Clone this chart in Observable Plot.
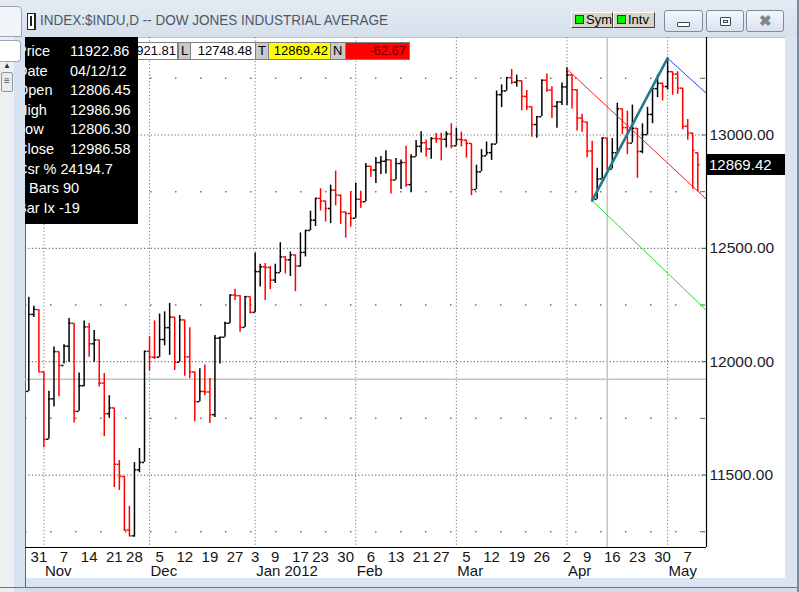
<!DOCTYPE html>
<html><head><meta charset="utf-8">
<script src="https://cdn.jsdelivr.net/npm/d3@7"></script>
<script src="https://cdn.jsdelivr.net/npm/@observablehq/plot@0.6"></script>
<style>
html,body{margin:0;padding:0}
body{width:799px;height:592px;overflow:hidden;position:relative;background:#d3dce7;font-family:"Liberation Sans",Arial,sans-serif}
.abs{position:absolute;box-sizing:border-box}
.btn{position:absolute;box-sizing:border-box;border:1px solid #7d8ca3;border-radius:3px;background:linear-gradient(#f4f7fb,#d9e2ee)}
.gbtn{position:absolute;box-sizing:border-box;background:#d6d3cc;border:1px solid;border-color:#fff #404040 #404040 #fff;font-size:13px;line-height:14px;color:#000}
.gsq{position:absolute;width:9px;height:9px;background:#00f000;border:1px solid #204020;box-sizing:border-box}
.row{position:absolute;left:-8px;height:20px;line-height:20px;font-size:14.5px;color:#fff;white-space:pre}
.val{position:absolute;left:53px;top:0}
.box{position:absolute;top:42px;height:18px;box-sizing:border-box;border:1px solid #808080;font-size:13px;line-height:16px;white-space:pre}
</style></head><body>
<!-- window chrome -->
<div class="abs" style="left:0;top:0;width:799px;height:37px;background:linear-gradient(#e4ebf3,#d6e0eb)"></div>
<div class="abs" style="left:0;top:6px;width:22px;height:31px;background:#f1f4f8;border:1px solid #9aa7b7;border-left:none;border-radius:0 5px 0 0"></div>
<div class="abs" style="left:0;top:37px;width:14px;height:555px;background:#eeeff1"></div>
<div class="abs" style="left:14px;top:37px;width:11px;height:555px;background:#d6e2ef"></div>
<div class="abs" style="left:0;top:40px;width:21px;height:22px;background:#fff;border:1px solid #9aa7b7;border-left:none;border-radius:0 4px 4px 0"></div>
<div class="abs" style="left:3px;top:61px;font-size:8px;color:#333">&#9650;</div>
<div class="abs" style="left:1px;top:72px;width:12px;height:20px;background:#e9edf2;border:1px solid #8a97a8;border-radius:2px;font-size:10px;line-height:16px;text-align:center;color:#555">&#8801;</div>
<div class="abs" style="left:25px;top:37px;width:760px;height:541px;background:#fff;border-left:1px solid #606870;border-top:1px solid #b8c2cd"></div>
<div class="abs" style="left:25px;top:578px;width:772px;height:9px;background:#dbe5f1;border-left:1px solid #606870"></div>
<div class="abs" style="left:0;top:587px;width:799px;height:1px;background:#6b7888"></div>
<div class="abs" style="left:785px;top:37px;width:12px;height:550px;background:#dbe5f1"></div>
<div class="abs" style="left:797px;top:0;width:2px;height:592px;background:#7c8a9b"></div>
<!-- title -->
<div class="abs" style="left:27px;top:13px;width:9px;height:17px;background:#fff;border:1px solid #222;border-right-width:2px"></div>
<div class="abs" style="left:30px;top:16px;width:2px;height:10px;background:#222"></div>
<div class="abs" id="title" style="left:40px;top:11px;font-size:15px;color:#4c5868;white-space:nowrap;transform:scaleX(0.9);transform-origin:0 0">INDEX:$INDU,D -- DOW JONES INDUSTRIAL AVERAGE</div>
<div class="gbtn" style="left:571px;top:12px;width:42px;height:16px"><div class="gsq" style="left:3px;top:2px"></div><span style="position:absolute;left:14px;top:0">Sym</span></div>
<div class="gbtn" style="left:613px;top:12px;width:42px;height:16px"><div class="gsq" style="left:3px;top:2px"></div><span style="position:absolute;left:14px;top:0">Intv</span></div>
<div class="btn" style="left:664px;top:10px;width:39px;height:22px"><div class="abs" style="left:12px;top:11px;width:13px;height:5px;border:1px solid #3a4658;border-radius:1px;background:#fff"></div></div>
<div class="btn" style="left:706px;top:10px;width:38px;height:22px"><div class="abs" style="left:13px;top:6px;width:11px;height:9px;border:1px solid #3a4658;border-radius:1px;background:#fff"></div><div class="abs" style="left:16px;top:9px;width:5px;height:3px;border:1px solid #3a4658"></div></div>
<div class="btn" style="left:746px;top:10px;width:38px;height:22px;text-align:center;font-size:15px;line-height:19px;font-weight:bold;color:#7a8596">&#10006;</div>
<div id="chart"></div>
<!-- top value boxes -->
<div class="box" style="left:110px;width:68px;background:#fff;text-align:right;padding-right:1px">12921.81</div>
<div class="box" style="left:178px;width:13px;background:#c9c9c9;padding-left:2px">L</div>
<div class="box" style="left:190px;width:66px;background:#fff;text-align:right;padding-right:3px">12748.48</div>
<div class="box" style="left:255px;width:14px;background:#c9c9c9;padding-left:2px">T</div>
<div class="box" style="left:268px;width:63px;background:#ffff00;text-align:right;padding-right:2px">12869.42</div>
<div class="box" style="left:330px;width:16px;background:#c9c9c9;padding-left:2px">N</div>
<div class="box" style="left:345px;width:65px;background:#ff0000;text-align:right;padding-right:3px;color:#6a0000">-62.67</div>
<!-- info panel -->
<div class="abs" id="panel" style="left:25px;top:37px;width:113px;height:187px;background:#000;overflow:hidden"></div>
<div class="abs" id="tag" style="left:706px;width:79px;height:21px;background:#000;color:#fff;font-size:15px;line-height:21px;padding-left:3px"></div>
<script>
// ---- data (DJIA daily bars) ----
const dates = ["2011-10-27","2011-10-28","2011-10-31",
"2011-11-01","2011-11-02","2011-11-03","2011-11-04","2011-11-07","2011-11-08","2011-11-09","2011-11-10","2011-11-11","2011-11-14","2011-11-15","2011-11-16","2011-11-17","2011-11-18","2011-11-21","2011-11-22","2011-11-23","2011-11-25","2011-11-28","2011-11-29","2011-11-30",
"2011-12-01","2011-12-02","2011-12-05","2011-12-06","2011-12-07","2011-12-08","2011-12-09","2011-12-12","2011-12-13","2011-12-14","2011-12-15","2011-12-16","2011-12-19","2011-12-20","2011-12-21","2011-12-22","2011-12-23","2011-12-27","2011-12-28","2011-12-29","2011-12-30",
"2012-01-03","2012-01-04","2012-01-05","2012-01-06","2012-01-09","2012-01-10","2012-01-11","2012-01-12","2012-01-13","2012-01-17","2012-01-18","2012-01-19","2012-01-20","2012-01-23","2012-01-24","2012-01-25","2012-01-26","2012-01-27","2012-01-30","2012-01-31",
"2012-02-01","2012-02-02","2012-02-03","2012-02-06","2012-02-07","2012-02-08","2012-02-09","2012-02-10","2012-02-13","2012-02-14","2012-02-15","2012-02-16","2012-02-17","2012-02-21","2012-02-22","2012-02-23","2012-02-24","2012-02-27","2012-02-28","2012-02-29",
"2012-03-01","2012-03-02","2012-03-05","2012-03-06","2012-03-07","2012-03-08","2012-03-09","2012-03-12","2012-03-13","2012-03-14","2012-03-15","2012-03-16","2012-03-19","2012-03-20","2012-03-21","2012-03-22","2012-03-23","2012-03-26","2012-03-27","2012-03-28","2012-03-29","2012-03-30",
"2012-04-02","2012-04-03","2012-04-04","2012-04-05","2012-04-09","2012-04-10","2012-04-11","2012-04-12","2012-04-13","2012-04-16","2012-04-17","2012-04-18","2012-04-19","2012-04-20","2012-04-23","2012-04-24","2012-04-25","2012-04-26","2012-04-27","2012-04-30",
"2012-05-01","2012-05-02","2012-05-03","2012-05-04","2012-05-07","2012-05-08","2012-05-09"];

const opens = [11869.04,12208.55,12229.30,
11955.01,11657.96,11836.04,12044.47,11983.24,12068.39,12169.00,11780.94,11893.86,12153.68,12078.98,12096.16,11905.59,11770.73,11796.16,11547.31,11493.72,11257.55,11231.78,11523.01,11555.63,
12045.68,12020.03,12019.42,12097.83,12150.13,12196.37,11997.70,12184.26,12021.39,11954.94,11823.48,11868.81,11866.39,11766.26,12103.58,12107.74,12169.65,12294.00,12291.35,12151.41,12287.04,
12217.56,12397.38,12418.42,12415.70,12359.92,12392.69,12462.47,12449.45,12471.02,12422.06,12482.07,12578.95,12623.98,12720.48,12708.82,12675.75,12756.96,12734.63,12660.46,12653.72,
12632.91,12716.46,12705.41,12862.23,12845.13,12878.20,12883.95,12890.46,12801.23,12874.04,12878.28,12780.95,12904.08,12949.87,12965.69,12938.67,12984.69,12982.95,12981.20,13005.12,
12952.07,12980.30,12977.57,12962.81,12759.15,12837.33,12907.94,12922.02,12959.71,13177.68,13194.10,13252.76,13232.62,13239.13,13170.19,13124.62,13046.14,13080.73,13241.63,13197.73,13126.21,13145.82,
13212.04,13264.49,13199.55,13074.75,13057.00,12929.59,12715.93,12806.45,12986.58,12849.59,12921.41,13115.54,13032.75,12964.10,13029.26,12927.17,13001.56,13090.72,13204.62,13228.31,
13213.63,13279.32,13268.57,13206.59,13038.27,13008.53,12921.81];

const highs = [12284.30,12245,12229,
11955,11870,12065,12044,12075,12190,12169,11950,12180,12169,12138,12096,11948,11850,11796,11564,11493,11362,11555,11617,12046,
12110,12180,12210,12220,12257,12196,12204,12184,12150,11955,11969,11985,11926,12116,12108,12174,12294,12319,12292,12288,12287,
12479,12430,12433,12420,12430,12525,12463,12484,12471,12568,12579,12664,12720,12763,12709,12779,12841,12735,12660,12750,
12788,12752,12874,12862,12901,12905,12931,12890,12896,12890,12950,12913,12976,13014,12978,12988,13006,13008,13014,13050,
13030,13012,12977,12962,12867,12936,12969,12960,13194,13221,13253,13289,13264,13239,13196,13125,13080,13243,13269,13213,13145,13229,
13297,13267,13199,13092,13057,12972,12853,12986.96,12986,12984,13140,13115,13105,13132,13029,13049,13122,13205,13265,13229,
13338.66,13279,13279,13207,13068,13008,12921.81];

const lows = [11869.04,12195,11955,
11620,11658,11800,11845,11990,11997,11730,11781,11890,12020,11998,11888,11670,11750,11445,11432,11253,11231,11226,11510,11556,
11960,12010,12019,12070,12028,11961,11998,11936,11925,11735,11823,11850,11727,11754,11990,12108,12169,12270,12130,12151,12212,
12217,12329,12270,12318,12345,12393,12387,12376,12309,12417,12462,12578,12596,12665,12616,12609,12687,12606,12545,12593,
12633,12677,12706,12813,12786,12826,12828,12740,12801,12760,12770,12745,12904,12920,12902,12893,12964,12886,12943,12939,
12952,12947,12898,12732,12759,12838,12908,12888,12960,13121,13194,13222,13211,13107,13108,12990,12986,13081,13189,13073,13030,13130,
13130,13115,13018,13012,12900,12710.6,12716,12806.30,12845,12850,12921,13002,12913,12965,12809,12917,13001,13050,13165,13150,
13198,13175,13179,13023,12977,12761,12748.48];

const closes = [12208.55,12231.11,11955.01,
11657.96,11836.04,12044.47,11983.24,12068.39,12170.18,11780.94,11893.86,12153.68,12078.98,12096.16,11905.59,11770.73,11796.16,11547.31,11493.72,11257.55,11231.78,11523.01,11555.63,12045.68,
12020.03,12019.42,12097.83,12150.13,12196.37,11997.70,12184.26,12021.39,11954.94,11823.48,11868.81,11866.39,11766.26,12103.58,12107.74,12169.65,12294.00,12291.35,12151.41,12287.04,12217.56,
12397.38,12418.42,12415.70,12359.92,12392.69,12462.47,12449.45,12471.02,12422.06,12482.07,12578.95,12623.98,12720.48,12708.82,12675.75,12756.96,12734.63,12660.46,12653.72,12632.91,
12716.46,12705.41,12862.23,12845.13,12878.20,12883.95,12890.46,12801.23,12874.04,12878.28,12780.95,12904.08,12949.87,12965.69,12938.67,12984.69,12982.95,12981.20,13005.12,12952.07,
12980.30,12977.57,12962.81,12759.15,12837.33,12907.94,12922.02,12959.71,13177.68,13194.10,13252.76,13232.62,13239.13,13170.19,13124.62,13046.14,13080.73,13241.63,13197.73,13126.21,13145.82,13212.04,
13264.49,13199.55,13074.75,13060.14,12929.59,12715.93,12805.39,12986.58,12849.59,12921.41,13115.54,13032.75,12964.10,13029.26,12927.17,13001.56,13090.72,13204.62,13228.31,13213.63,
13279.32,13268.57,13206.59,13038.27,13008.53,12932.09,12869.42];

const prevCloseBeforeFirst = 11869.04;

// axis tick labels
const dayTickDates = ["2011-10-31","2011-11-07","2011-11-14","2011-11-21","2011-11-28","2011-12-05","2011-12-12","2011-12-19","2011-12-27","2012-01-03","2012-01-09","2012-01-17","2012-01-23","2012-01-30","2012-02-06","2012-02-13","2012-02-21","2012-02-27","2012-03-05","2012-03-12","2012-03-19","2012-03-26","2012-04-02","2012-04-09","2012-04-16","2012-04-23","2012-04-30","2012-05-07"];
const dayTickLabels = ["31","7","14","21","28","5","12","19","27","3","9","17","23","30","6","13","21","27","5","12","19","26","2","9","16","23","30","7"];
const monthStartDates = ["2011-11-01","2011-12-01","2012-01-03","2012-02-01","2012-03-01","2012-04-02","2012-05-01"];
const monthLabels = ["Nov","Dec","Jan 2012","Feb","Mar","Apr","May"];
const priceTicks = [11500, 12000, 12500, 13000];
const minorPriceTicks = [11250, 11500, 11750, 12000, 12250, 12500, 12750, 13000, 13250];
const sparseGrid = [11250, 11750, 12250, 12750, 13250];

// drawing tools (bar index, price)
const redLine = [{i: 107, p: 13290}, {i: 134.73, p: 12716}];
const greenLine = [{i: 112, p: 12710.6}, {i: 134.73, p: 12226}];
const tealLine = [{i: 112, p: 12710.6}, {i: 127, p: 13338.66}];
const blueLine = [{i: 127, p: 13338.66}, {i: 134.73, p: 13183}];
const cursor = {i: 115, p: 11922.86};

// info panel / boxes
const panelLabels = ["Price","Date","Open","High","Low","Close"];
const panelValues = ["11922.86","04/12/12","12806.45","12986.96","12806.30","12986.58"];
const panelExtra = ["Csr % 24194.7","# Bars 90","Bar Ix -19"];
const lastPrice = 12869.42;

const xDomain = [-0.66, 134.73];
const yDomain = [11180.4, 13430];

const bars = dates.map((d, i) => ({
  i, o: opens[i], h: highs[i], l: lows[i], c: closes[i],
  col: closes[i] >= (i ? closes[i - 1] : prevCloseBeforeFirst) ? "#000000" : "#ff0000"
}));
const dayTicks = dayTickDates.map((d, k) => ({i: dates.indexOf(d), label: dayTickLabels[k]}));
const monthTicks = monthStartDates.map((d, k) => ({i: dates.indexOf(d), label: monthLabels[k]}));
const gridColor = "#7a7a7a";
const hGrid = priceTicks.map(p => ({p}));
const hSparse = sparseGrid.map(p => ({p}));

const plot = Plot.plot({
  width: 799, height: 592,
  marginLeft: 25, marginRight: 93, marginTop: 37, marginBottom: 45,
  style: {background: "transparent", fontFamily: "Liberation Sans, Arial, sans-serif", overflow: "visible"},
  x: {domain: xDomain, axis: null},
  y: {domain: yDomain, axis: null},
  color: {type: "identity"},
  marks: [
    Plot.ruleY(hGrid, {y: "p", x1: xDomain[0], x2: xDomain[1], stroke: "#707070", strokeWidth: 1.2, strokeDasharray: "1.2 2.2"}),
    Plot.ruleY(hSparse, {y: "p", x1: xDomain[0], x2: xDomain[1], stroke: "#707070", strokeWidth: 1.5, strokeDasharray: "1.5 23.5"}),
    Plot.ruleX(monthTicks, {x: "i", stroke: gridColor, strokeWidth: 1, strokeDasharray: "1.2 2.2"}),
    Plot.ruleY([cursor.p], {stroke: "#c4c4c4", strokeWidth: 1.6}),
    Plot.ruleX([cursor.i], {stroke: "#c4c4c4", strokeWidth: 1.6}),
    Plot.ruleX(bars, {x: "i", y1: "l", y2: "h", stroke: "col", strokeWidth: 1.5}),
    Plot.ruleY(bars, {y: "o", x1: d => d.i - 0.45, x2: "i", stroke: "col", strokeWidth: 1.5}),
    Plot.ruleY(bars, {y: "c", x1: "i", x2: d => d.i + 0.45, stroke: "col", strokeWidth: 1.5}),
    Plot.line(redLine, {x: "i", y: "p", stroke: "#ff1a1a", strokeWidth: 1}),
    Plot.line(greenLine, {x: "i", y: "p", stroke: "#22dd22", strokeWidth: 1}),
    Plot.line(blueLine, {x: "i", y: "p", stroke: "#2244dd", strokeWidth: 1}),
    Plot.line(tealLine, {x: "i", y: "p", stroke: "#237a8c", strokeWidth: 2.6}),
    Plot.ruleY(minorPriceTicks, {x1: xDomain[1] - 0.8, x2: xDomain[1] - 0.2, stroke: "#555"}),
    Plot.ruleX([xDomain[1]], {stroke: "#000", strokeWidth: 1.2}),
    Plot.ruleY([yDomain[0]], {stroke: "#000", strokeWidth: 1.2}),
    Plot.text(priceTicks, {y: d => d, text: d => d.toFixed(2), frameAnchor: "right", textAnchor: "start", dx: 3, fontSize: 15.5, fill: "#1a1a28"}),
    Plot.text(dayTicks, {x: "i", text: "label", frameAnchor: "bottom", lineAnchor: "top", dy: 4, fontSize: 15, fill: "#151515"}),
    Plot.text(monthTicks, {x: "i", text: "label", frameAnchor: "bottom", lineAnchor: "top", textAnchor: "start", dx: 1, dy: 18, fontSize: 15, fill: "#151515"})
  ]
});
plot.style.position = "absolute";
plot.style.left = "0px";
plot.style.top = "0px";
document.getElementById("chart").append(plot);

// price tag via the plot's own y scale
const ys = plot.scale("y");
const yScale = d3.scaleLinear(ys.domain, ys.range);
const tag = document.getElementById("tag");
tag.textContent = lastPrice.toFixed(2);
tag.style.top = (yScale(lastPrice) - 10.5) + "px";

// info panel
const panel = document.getElementById("panel");
const rowH = 19.6;
panelLabels.forEach((lab, k) => {
  const r = document.createElement("div");
  r.className = "row"; r.style.top = (4 + k * rowH) + "px";
  r.textContent = lab;
  const v = document.createElement("span");
  v.className = "val"; v.textContent = panelValues[k];
  r.appendChild(v); panel.appendChild(r);
});
panelExtra.forEach((t, k) => {
  const r = document.createElement("div");
  r.className = "row"; r.style.top = (4 + (k + 6) * rowH) + "px";
  r.textContent = t; panel.appendChild(r);
});
</script>
</body></html>
